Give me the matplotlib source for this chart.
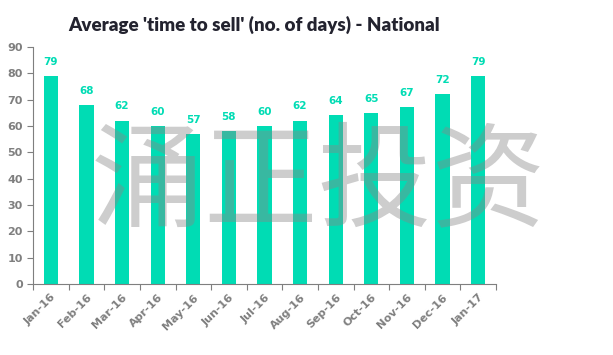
import matplotlib
matplotlib.use("Agg")
import matplotlib.pyplot as plt
import numpy as np

months = ["Jan-16", "Feb-16", "Mar-16", "Apr-16", "May-16", "Jun-16", "Jul-16",
          "Aug-16", "Sep-16", "Oct-16", "Nov-16", "Dec-16", "Jan-17"]
days = [79, 68, 62, 60, 57, 58, 60, 62, 64, 65, 67, 72, 79]

BAR = "#00dcb4"
GREY = "#7f7f7f"

fig = plt.figure(figsize=(6.13, 3.55), dpi=100)
ax = fig.add_axes([0.054, 0.2, 0.755, 0.668])

x = np.arange(len(months))
ax.bar(x, days, width=0.4, color=BAR, zorder=2)
for xi, v in zip(x, days):
    ax.text(xi, v + 3.5, str(v), ha="center", va="bottom", color=BAR,
            fontsize=7.5, fontweight="bold")

ax.set_xlim(-0.5, len(months) - 0.5)
ax.set_ylim(0, 90)
ax.set_yticks(range(0, 91, 10))
ax.set_xticks(np.arange(-0.5, len(months), 1), minor=False)
ax.set_xticklabels([])
ax.set_xticks(x, minor=True)
ax.set_xticklabels(months, minor=True, rotation=45, ha="right",
                   rotation_mode="anchor", color=GREY, fontsize=8,
                   fontweight="bold")
ax.tick_params(axis="x", which="minor", length=0, pad=6)
ax.tick_params(axis="x", which="major", length=4, color=GREY, direction="out")
ax.tick_params(axis="y", length=4, color=GREY, labelcolor=GREY, labelsize=8)
for lbl in ax.get_yticklabels():
    lbl.set_fontweight("bold")
for s in ["top", "right"]:
    ax.spines[s].set_visible(False)
for s in ["left", "bottom"]:
    ax.spines[s].set_color(GREY)

fig.text(0.415, 0.93, "Average 'time to sell' (no. of days) - National",
         ha="center", va="center", fontsize=13.5, fontweight="heavy",
         color="#23232f", family="Lato")

# watermark
fig.text(0.52, 0.48, "涌正投资", ha="center", va="center", fontsize=82,
         color="#888888", alpha=0.42, family=["Noto Sans CJK SC", "DejaVu Sans"],
         fontweight="light", zorder=5)

fig.savefig("out.png", dpi=100)
